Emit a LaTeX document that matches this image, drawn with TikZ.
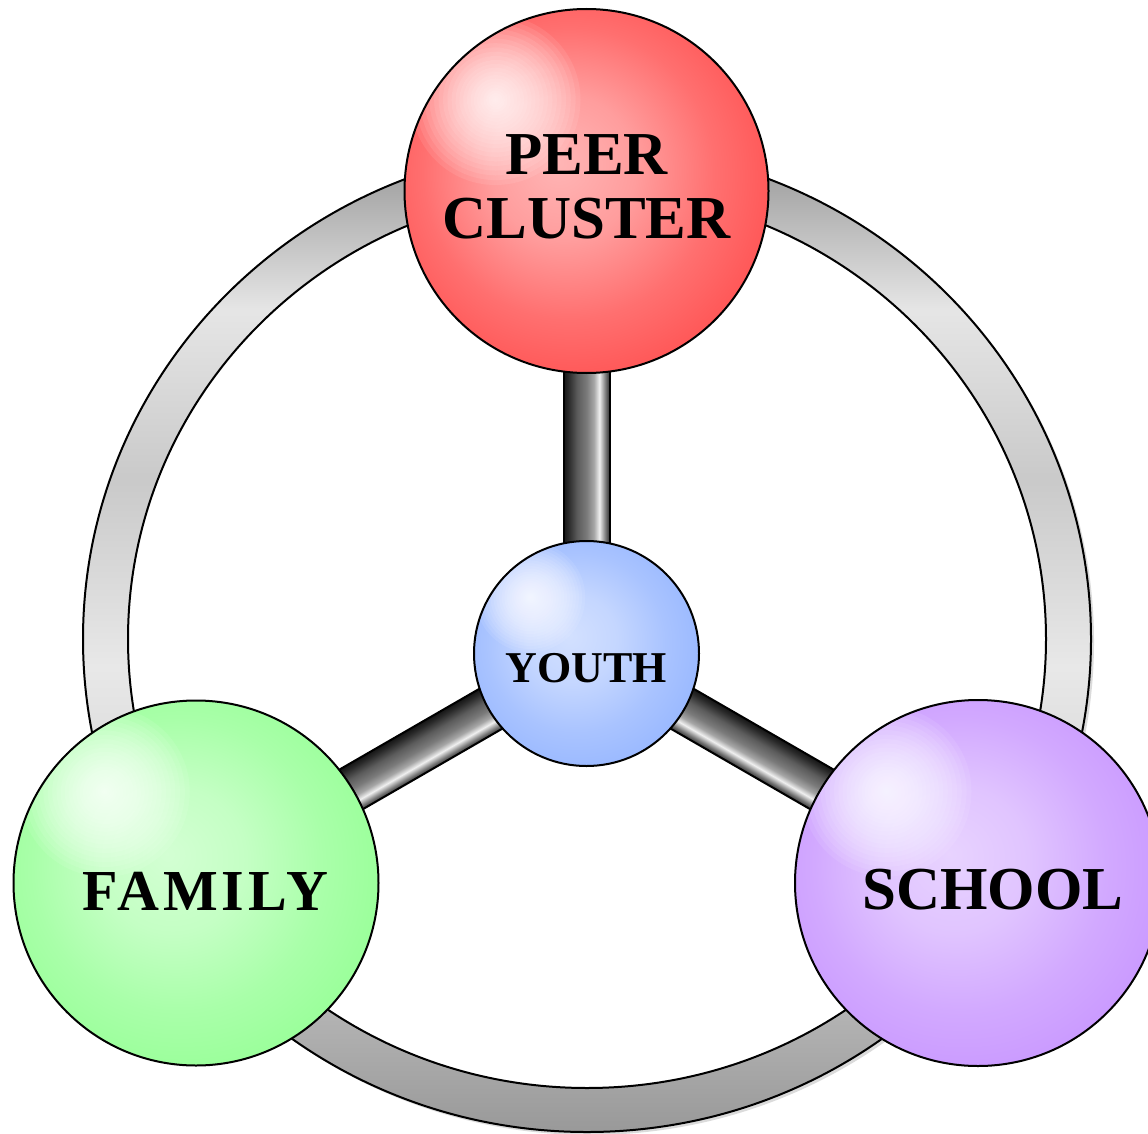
\documentclass[tikz,border=0pt]{standalone}
\usepackage{fontspec}
\setmainfont{Liberation Serif}
\usetikzlibrary{calc}
\definecolor{redc}{RGB}{255,80,80}
\definecolor{bluec}{RGB}{150,182,255}
\definecolor{greenc}{RGB}{150,255,150}
\definecolor{purplec}{RGB}{200,150,255}
\newcommand\mkballshade[2]{%
  \pgfdeclareradialshading{#1}{\pgfpoint{-4bp}{4bp}}{%
    color(0bp)=(#2!42!white); color(10bp)=(#2!56!white);
    color(20bp)=(#2!82!white); color(30bp)=(#2); color(50bp)=(#2)}}
\mkballshade{ballred}{redc}
\mkballshade{ballblue}{bluec}
\mkballshade{ballgreen}{greenc}
\mkballshade{ballpurple}{purplec}
\pgfdeclareverticalshading{ringshade}{100bp}{%
  color(0bp)=(black!40); color(25bp)=(black!40); color(36.8bp)=(black!20);
  color(48.6bp)=(black!9); color(58.1bp)=(black!21); color(66.7bp)=(black!10);
  color(75bp)=(black!42); color(100bp)=(black!42)}
\pgfdeclareverticalshading{barshade}{100bp}{%
  color(0bp)=(black!80); color(25bp)=(black!80); color(29bp)=(black!55);
  color(36bp)=(black!6); color(42bp)=(black!35); color(50bp)=(black!52);
  color(60bp)=(black!64); color(70bp)=(black!84); color(75bp)=(black!92); color(100bp)=(black!92)}
\pgfdeclarelayer{bg}
\pgfsetlayers{bg,main}
\tikzset{
  sphere/.style 2 args={circle, draw=black, line width=2pt, inner sep=0pt, shade, shading=#1,
    path picture={
      \coordinate (hl) at ($(path picture bounding box.center)!0.5!(path picture bounding box.north west)$);
      \foreach \k in {1,...,24}{\fill[white, fill opacity=0.085] (hl) circle ({#2*(\k/24)^1.4});}}},
  bigfont/.style={font={\fontsize{61}{64}\selectfont\bfseries}, align=center},
  midfont/.style={font={\fontsize{44}{48}\selectfont\bfseries}},
  barstyle/.style={shade, shading=barshade, draw=black, line width=2pt},
  ringstyle/.style={shade, shading=ringshade, draw=black, line width=2pt, even odd rule},
}
\begin{document}
\begin{tikzpicture}[x=1pt, y=-1pt]
\useasboundingbox (0,0) rectangle (1148,1134);
\coordinate (rc) at (587,639);
\node[sphere={ballred}{85}, minimum size=364pt,
      label={[bigfont, yshift=4.5pt]center:PEER\\CLUSTER}] (peer) at (586.5,191) {};
\node[sphere={ballblue}{55}, minimum size=225pt,
      label={[midfont, yshift=-15pt]center:YOUTH}] (youth) at (586.5,653.5) {};
\node[sphere={ballgreen}{85}, minimum size=365pt,
      label={[font={\fontsize{58}{62}\selectfont\bfseries\addfontfeatures{LetterSpace=7}}, xshift=9pt, yshift=-8pt]center:FAMILY}] (family) at (196,883) {};
\node[sphere={ballpurple}{85}, minimum size=366pt,
      label={[font={\fontsize{61}{62}\selectfont\bfseries}, xshift=15pt, yshift=-7pt]center:SCHOOL}] (school) at (978,883) {};
\begin{pgfonlayer}{bg}
  \fill[black!14, even odd rule] ($(rc)+(3,3)$) ellipse (504 and 493) (rc) ellipse (459 and 449);
  \path[ringstyle] (rc) ellipse (504 and 493) (rc) ellipse (459 and 449);
  \begin{scope}[transform canvas={shift={(youth.center)}, rotate=90}]
    \path[barstyle] (0,-23) rectangle (462,23);
  \end{scope}
  \begin{scope}[transform canvas={shift={(youth.center)}, rotate=210, yscale=-1}]
    \path[barstyle] (0,-23) rectangle (453,23);
  \end{scope}
  \begin{scope}[transform canvas={shift={(youth.center)}, rotate=330}]
    \path[barstyle] (0,-23) rectangle (453,23);
  \end{scope}
\end{pgfonlayer}
\end{tikzpicture}
\end{document}
